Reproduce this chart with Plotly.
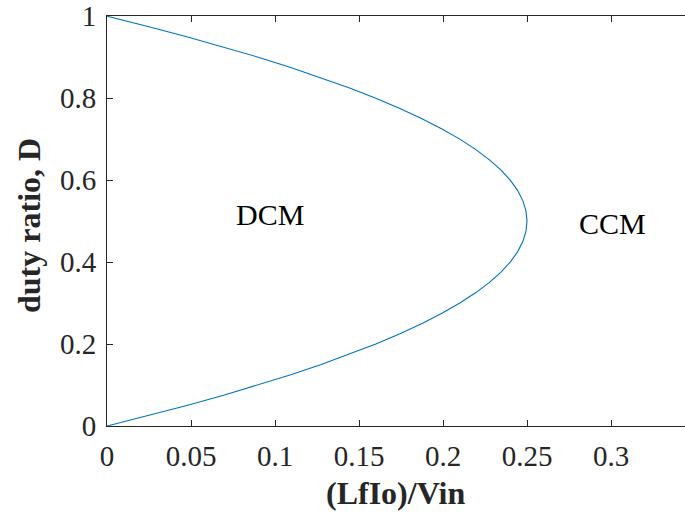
import plotly.graph_objects as go

# Boundary curve: duty ratio D vs (LfIo)/Vin
duty = [0, 0.025, 0.05, 0.075, 0.1, 0.125, 0.15, 0.175, 0.2, 0.225, 0.25,
        0.275, 0.3, 0.325, 0.35, 0.375, 0.4, 0.425, 0.45, 0.475, 0.5,
        0.525, 0.55, 0.575, 0.6, 0.625, 0.65, 0.675, 0.7, 0.725, 0.75,
        0.775, 0.8, 0.825, 0.85, 0.875, 0.9, 0.925, 0.95, 0.975, 1.0]
lfio_vin = [0, 0.024375, 0.0475, 0.069375, 0.09, 0.109375, 0.1275, 0.144375,
            0.16, 0.174375, 0.1875, 0.199375, 0.21, 0.219375, 0.2275, 0.234375,
            0.24, 0.244375, 0.2475, 0.249375, 0.25,
            0.249375, 0.2475, 0.244375, 0.24, 0.234375, 0.2275, 0.219375,
            0.21, 0.199375, 0.1875, 0.174375, 0.16, 0.144375, 0.1275,
            0.109375, 0.09, 0.069375, 0.0475, 0.024375, 0]

x_ticks = [0, 0.05, 0.1, 0.15, 0.2, 0.25, 0.3]
x_tick_labels = ["0", "0.05", "0.1", "0.15", "0.2", "0.25", "0.3"]
y_ticks = [0, 0.2, 0.4, 0.6, 0.8, 1]
y_tick_labels = ["0", "0.2", "0.4", "0.6", "0.8", "1"]

region_labels = ["DCM", "CCM"]
region_x = [0.097, 0.3006]
region_y = [0.515, 0.493]

AX = "#262626"
FONT = "Liberation Serif"

fig = go.Figure()
fig.add_trace(go.Scatter(x=lfio_vin, y=duty, mode="lines",
                         line=dict(color="#0072BD", width=1.1),
                         showlegend=False, hoverinfo="skip"))

for t, xx, yy in zip(region_labels, region_x, region_y):
    fig.add_annotation(x=xx, y=yy, xref="x", yref="y", text=t, showarrow=False,
                       font=dict(family=FONT, size=30, color="black"),
                       xanchor="center", yanchor="middle")

fig.add_annotation(x=(395 - 107) / 578, y=(426 - 493) / 412, xref="paper", yref="paper",
                   text="<b>(LfIo)/Vin</b>", showarrow=False,
                   font=dict(family=FONT, size=32, color=AX),
                   xanchor="center", yanchor="middle")
fig.add_annotation(x=(29 - 107) / 578, y=(426 - 224) / 412, xref="paper", yref="paper",
                   text="<b>duty ratio, D</b>", showarrow=False, textangle=-90,
                   font=dict(family=FONT, size=32, color=AX),
                   xanchor="center", yanchor="middle")

fig.update_layout(
    width=685, height=516,
    font=dict(family=FONT, color=AX),
    margin=dict(l=107, r=0, t=14, b=90),
    paper_bgcolor="white", plot_bgcolor="white",
    xaxis=dict(range=[0, 578 / 1680], tickvals=x_ticks, ticktext=x_tick_labels,
               showgrid=False, zeroline=False, showline=True, linecolor=AX, linewidth=1,
               mirror="ticks", ticks="inside", ticklen=6, tickcolor=AX, tickwidth=1,
               tickfont=dict(family=FONT, size=29, color=AX), ticklabelstandoff=4),
    yaxis=dict(range=[0, 1.0005], tickvals=y_ticks, ticktext=y_tick_labels,
               showgrid=False, zeroline=False, showline=True, linecolor=AX, linewidth=1,
               mirror=False, ticks="inside", ticklen=6, tickcolor=AX, tickwidth=1,
               tickfont=dict(family=FONT, size=29, color=AX), ticklabelstandoff=4,
               ticklabeloverflow="allow"),
)

fig.write_html("out.html")
